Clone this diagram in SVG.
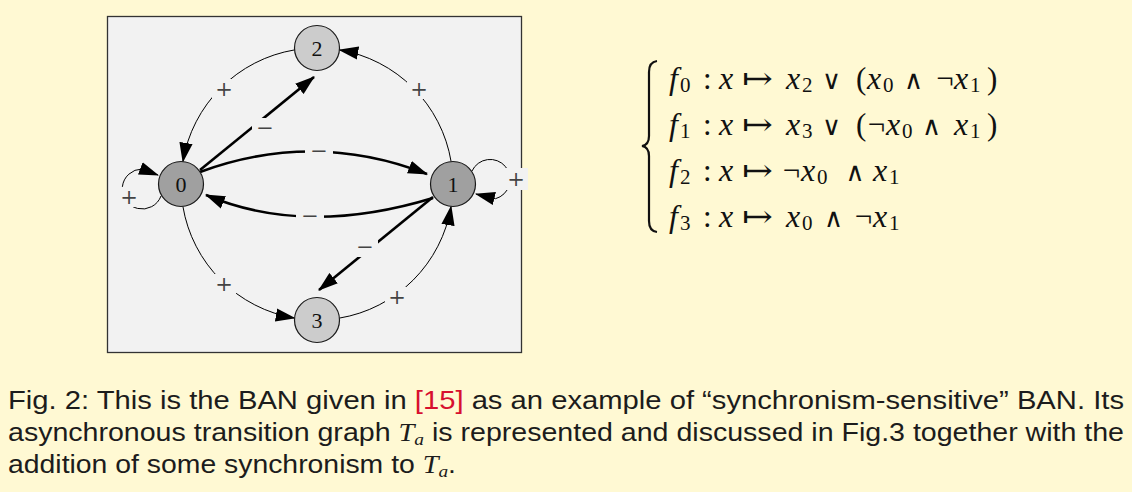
<svg xmlns="http://www.w3.org/2000/svg" width="1132" height="492" viewBox="0 0 1132 492">
<style>
.nc{stroke:#1a1a1a;stroke-width:1.2}
.dk{fill:#a0a0a0}
.lt{fill:#cccccc}
.nt{font-family:"Liberation Serif",serif;font-size:22px;text-anchor:middle;fill:#111}
.thin{fill:none;stroke:#000;stroke-width:1}
.thick{fill:none;stroke:#000;stroke-width:2.6}
.lb{fill:#f2f2f2}
.lbl{font-family:"DejaVu Serif",serif;font-size:21px;text-anchor:middle;fill:#444}
.m{font-family:"Liberation Serif","DejaVu Serif",serif;font-size:31px;fill:#111}
.i{font-style:italic;font-size:32px}
.c{text-anchor:middle}
.s{font-family:"Liberation Serif",serif;font-size:21px;fill:#111}
.op{font-family:"DejaVu Serif",serif;font-size:26px;fill:#111;text-anchor:middle}
.cap{font-family:"Liberation Sans",Arial,sans-serif;font-size:25px;fill:#1c1c1c}
.ti{font-family:"Liberation Serif",serif;font-style:italic}
</style>
<defs>
<marker id="ah" markerUnits="userSpaceOnUse" markerWidth="20" markerHeight="14" viewBox="0 0 18 12" refX="17" refY="6" orient="auto">
<path d="M0,0 L18,6 L0,12 Z" fill="#000"/>
</marker>
</defs>
<rect x="0" y="0" width="1132" height="492" fill="#fff9d3"/>
<rect x="107.5" y="16.5" width="414" height="336" fill="#f2f2f2" stroke="#333" stroke-width="1.3"/>
<g id="connectors">
<path class="thin" marker-end="url(#ah)" d="M294.6,49.9 A136,136 0 0 0 182.9,161.6"/>
<path class="thin" marker-end="url(#ah)" d="M451.1,161.6 A136,136 0 0 0 339.4,49.9"/>
<path class="thin" marker-end="url(#ah)" d="M182.9,206.4 A136,136 0 0 0 294.6,318.1"/>
<path class="thin" marker-end="url(#ah)" d="M339.4,318.1 A136,136 0 0 0 451.1,206.4"/>
<path class="thick" marker-end="url(#ah)" d="M200,170 L314,77"/>
<path class="thick" marker-end="url(#ah)" d="M433,197 L319,290"/>
<path class="thick" marker-end="url(#ah)" d="M200,172 Q314,130 427,174"/>
<path class="thick" marker-end="url(#ah)" d="M433,198 Q305,237 206,195"/>
<path class="thin" marker-end="url(#ah)" d="M161,196 A20,20 0 1 1 142,169 L158,175"/>
<path class="thin" marker-end="url(#ah)" d="M472,171 A20,20 0 1 1 495.5,198.7 L476,194"/>
<rect class="lb" x="212" y="79" width="24" height="20"/><text class="lbl" x="224" y="96">+</text>
<rect class="lb" x="407" y="79" width="24" height="20"/><text class="lbl" x="419" y="96">+</text>
<rect class="lb" x="212" y="274" width="24" height="20"/><text class="lbl" x="224" y="291">+</text>
<rect class="lb" x="385" y="287" width="24" height="20"/><text class="lbl" x="397" y="304">+</text>
<rect class="lb" x="252" y="118" width="26" height="20"/><text class="lbl" x="265" y="135">−</text>
<rect class="lb" x="305" y="141" width="28" height="20"/><text class="lbl" x="319" y="158">−</text>
<rect class="lb" x="296" y="206" width="28" height="20"/><text class="lbl" x="310" y="223">−</text>
<rect class="lb" x="352" y="237" width="26" height="20"/><text class="lbl" x="365" y="254">−</text>
<rect class="lb" x="118" y="187" width="22" height="20"/><text class="lbl" x="129" y="204">+</text>
<rect class="lb" x="506" y="168" width="22" height="22"/><text class="lbl" x="516" y="186">+</text>
</g>
<g id="node0"><circle class="nc dk" cx="181" cy="184" r="22.5"/><text class="nt" x="181" y="191.5">0</text></g>
<g id="node1"><circle class="nc dk" cx="453" cy="184" r="22.5"/><text class="nt" x="453" y="191.5">1</text></g>
<g id="node2"><circle class="nc lt" cx="317" cy="48" r="22.5"/><text class="nt" x="317" y="55.5">2</text></g>
<g id="node3"><circle class="nc lt" cx="317" cy="320" r="22.5"/><text class="nt" x="317" y="327.5">3</text></g>
<g id="equations">
<path d="M657,61 Q649,62 649,72 L649,136 Q649,145 642,146 Q649,147 649,156 L649,221 Q649,231 657,232" fill="none" stroke="#111" stroke-width="2.2"/>
<text class="m i" x="669" y="89">f</text><text class="s" x="680" y="92">0</text><text class="m" x="703" y="89">:</text><text class="m i" x="719" y="89">x</text><text class="m" x="742" y="89" textLength="31" lengthAdjust="spacingAndGlyphs">↦</text><text class="m i" x="786" y="89">x</text><text class="s" x="802" y="92">2</text><text class="op" x="831.5" y="89">∨</text><text class="m" x="856" y="89">(</text><text class="m i" x="867" y="89">x</text><text class="s" x="883" y="92">0</text><text class="op" x="913.5" y="89">∧</text><text class="m c" x="945" y="89">¬</text><text class="m i" x="954" y="89">x</text><text class="s" x="970" y="92">1</text><text class="m" x="987" y="89">)</text>
<text class="m i" x="669" y="135">f</text><text class="s" x="680" y="138">1</text><text class="m" x="703" y="135">:</text><text class="m i" x="719" y="135">x</text><text class="m" x="742" y="135" textLength="31" lengthAdjust="spacingAndGlyphs">↦</text><text class="m i" x="786" y="135">x</text><text class="s" x="802" y="138">3</text><text class="op" x="831.5" y="135">∨</text><text class="m" x="856" y="135">(</text><text class="m c" x="876.5" y="135">¬</text><text class="m i" x="886" y="135">x</text><text class="s" x="902" y="138">0</text><text class="op" x="931.5" y="135">∧</text><text class="m i" x="954" y="135">x</text><text class="s" x="970" y="138">1</text><text class="m" x="987" y="135">)</text>
<text class="m i" x="669" y="181">f</text><text class="s" x="680" y="184">2</text><text class="m" x="703" y="181">:</text><text class="m i" x="719" y="181">x</text><text class="m" x="742" y="181" textLength="31" lengthAdjust="spacingAndGlyphs">↦</text><text class="m c" x="791.5" y="181">¬</text><text class="m i" x="801" y="181">x</text><text class="s" x="817" y="184">0</text><text class="op" x="855" y="181">∧</text><text class="m i" x="873" y="181">x</text><text class="s" x="889" y="184">1</text>
<text class="m i" x="669" y="227">f</text><text class="s" x="680" y="230">3</text><text class="m" x="703" y="227">:</text><text class="m i" x="719" y="227">x</text><text class="m" x="742" y="227" textLength="31" lengthAdjust="spacingAndGlyphs">↦</text><text class="m i" x="786" y="227">x</text><text class="s" x="802" y="230">0</text><text class="op" x="833.5" y="227">∧</text><text class="m c" x="863.5" y="227">¬</text><text class="m i" x="873" y="227">x</text><text class="s" x="889" y="230">1</text>
</g>
<g id="caption">
<text class="cap" x="8" y="409" textLength="1116" lengthAdjust="spacingAndGlyphs">Fig. 2: This is the BAN given in <tspan fill="#d7102f">[15]</tspan> as an example of “synchronism-sensitive” BAN. Its</text>
<text class="cap" x="8" y="441" textLength="1116" lengthAdjust="spacingAndGlyphs">asynchronous transition graph <tspan class="ti">T</tspan><tspan class="ti" font-size="17" dy="4">a</tspan><tspan dy="-4"> is represented and discussed in Fig.3 together with the</tspan></text>
<text class="cap" x="8" y="473" textLength="448" lengthAdjust="spacingAndGlyphs">addition of some synchronism to <tspan class="ti">T</tspan><tspan class="ti" font-size="17" dy="4">a</tspan><tspan dy="-4">.</tspan></text>
</g>
</svg>
